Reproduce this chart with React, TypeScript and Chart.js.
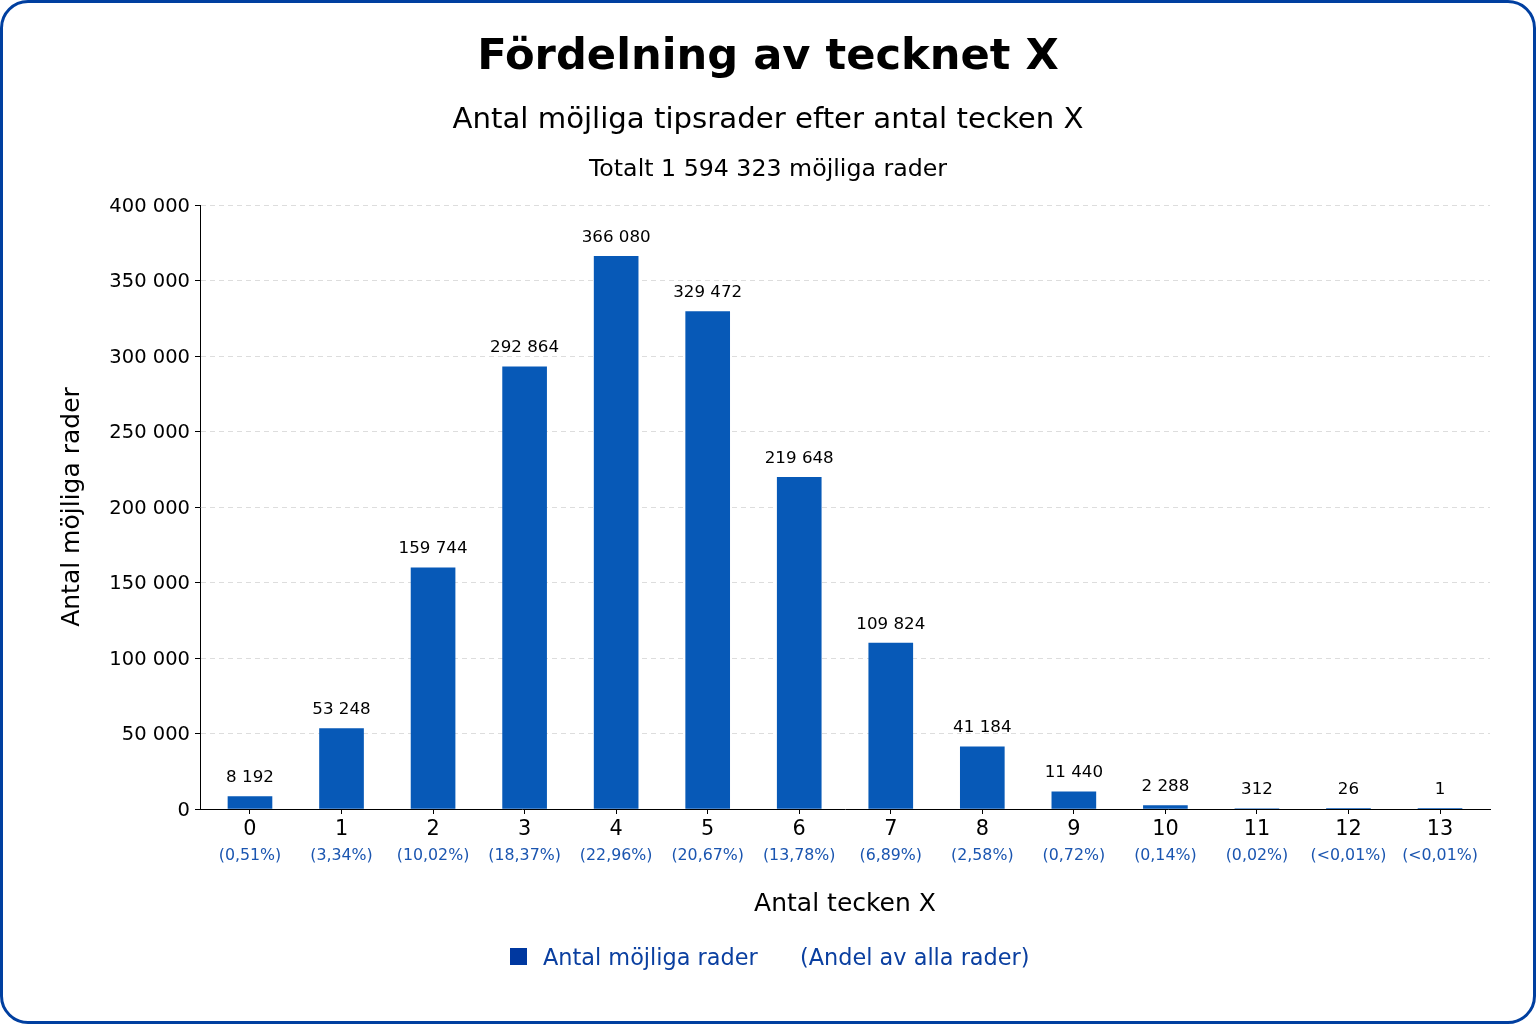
import React, { useEffect, useRef } from 'react';
import { Chart, registerables } from 'chart.js';

Chart.register(...registerables);

const FONT = "'DejaVu Sans', sans-serif";

const categories = ['0', '1', '2', '3', '4', '5', '6', '7', '8', '9', '10', '11', '12', '13'];
const counts = [8192, 53248, 159744, 292864, 366080, 329472, 219648, 109824, 41184, 11440, 2288, 312, 26, 1];
const shares = ['(0,51%)', '(3,34%)', '(10,02%)', '(18,37%)', '(22,96%)', '(20,67%)', '(13,78%)', '(6,89%)', '(2,58%)', '(0,72%)', '(0,14%)', '(0,02%)', '(<0,01%)', '(<0,01%)'];
const yMin = 0;
const yMax = 400000;
const yStep = 50000;

const titleText = 'Fördelning av tecknet X';
const subtitleText = 'Antal möjliga tipsrader efter antal tecken X';
const totalText = 'Totalt 1 594 323 möjliga rader';
const xTitle = 'Antal tecken X';
const yTitle = 'Antal möjliga rader';
const legendMain = 'Antal möjliga rader';
const legendNote = '(Andel av alla rader)';

const fmt = (n: number) => String(Math.round(n)).replace(/\B(?=(\d{3})+(?!\d))/g, ' ');

const barLabels = {
  id: 'barLabels',
  afterDatasetsDraw(chart: any) {
    const ctx = chart.ctx;
    const meta = chart.getDatasetMeta(0);
    ctx.save();
    ctx.font = `16.7px ${FONT}`;
    ctx.fillStyle = '#000000';
    ctx.textAlign = 'center';
    ctx.textBaseline = 'middle';
    meta.data.forEach((el: any, i: number) => {
      ctx.fillText(fmt(counts[i]), el.x, el.y - 19);
    });
    ctx.restore();
  },
  afterDraw(chart: any) {
    const ctx = chart.ctx;
    const xs = chart.scales.x;
    ctx.save();
    ctx.font = `15.8px ${FONT}`;
    ctx.fillStyle = '#1a55b0';
    ctx.textAlign = 'center';
    ctx.textBaseline = 'middle';
    shares.forEach((s, i) => {
      ctx.fillText(s, xs.getPixelForValue(i), 855.5);
    });
    ctx.restore();
  },
};

export default function App() {
  const ref = useRef<HTMLCanvasElement>(null);

  useEffect(() => {
    if (!ref.current) return;
    const chart = new Chart(ref.current, {
      type: 'bar',
      data: {
        datasets: [
          {
            label: legendMain,
            data: counts.map((v, i) => ({ x: i, y: v })),
            backgroundColor: '#0759b7',
            borderWidth: 0,
            barThickness: 44,
          } as any,
        ],
      },
      options: {
        responsive: false,
        animation: false,
        layout: { padding: { top: 205, left: 0, right: 46, bottom: 105 } },
        plugins: {
          legend: { display: false },
          tooltip: { enabled: false },
          title: { display: false },
        },
        scales: {
          x: {
            type: 'linear',
            min: -0.546,
            max: 13.546,
            offset: false,
            afterFit: (s: any) => {
              s.height = 110;
            },
            grid: {
              display: true,
              offset: false,
              drawOnChartArea: false,
              drawTicks: true,
              tickLength: 5,
              tickColor: '#000000',
              tickWidth: 1,
            },
            border: { display: true, color: '#000000', width: 1 },
            ticks: {
              stepSize: 1,
              includeBounds: false,
              autoSkip: false,
              maxRotation: 0,
              padding: 3,
              color: '#000000',
              font: { family: FONT, size: 20.8 },
              callback: (v: any) => categories[v] ?? '',
            },
            title: {
              display: true,
              text: xTitle,
              color: '#000000',
              font: { family: FONT, size: 25 },
              padding: { top: 0, bottom: 0 },
            },
          } as any,
          y: {
            type: 'linear',
            min: yMin,
            max: yMax,
            afterFit: (s: any) => {
              s.width = 200;
            },
            grid: {
              display: true,
              color: '#dddddd',
              lineWidth: 1,
              drawTicks: true,
              tickLength: 5,
              tickColor: '#000000',
              tickWidth: 1,
              tickBorderDash: [],
            },
            border: { display: true, color: '#000000', width: 1, dash: [5, 4] },
            ticks: {
              stepSize: yStep,
              padding: 5,
              labelOffset: 1.5,
              color: '#000000',
              font: { family: FONT, size: 19.5 },
              callback: (v: any) => fmt(Number(v)),
            },
            title: {
              display: true,
              text: yTitle,
              color: '#000000',
              font: { family: FONT, size: 25 },
              padding: { top: 57, bottom: 0 },
            },
          } as any,
        },
      },
      plugins: [barLabels],
    });
    return () => chart.destroy();
  }, []);

  const abs: React.CSSProperties = {
    position: 'absolute',
    whiteSpace: 'nowrap',
    lineHeight: 1,
    fontFamily: FONT,
    margin: 0,
  };

  return (
    <div style={{ position: 'absolute', left: 0, top: 0, width: 1536, height: 1024, background: '#ffffff', overflow: 'hidden' }}>
      <canvas ref={ref} width={1536} height={1024} style={{ position: 'absolute', left: 0, top: 0, width: 1536, height: 1024 }} />
      <div style={{ ...abs, left: 0, width: 1536, textAlign: 'center', top: 33, fontSize: 43.2, fontWeight: 'bold', color: '#000' }}>{titleText}</div>
      <div style={{ ...abs, left: 0, width: 1536, textAlign: 'center', top: 103.5, fontSize: 29.2, color: '#000' }}>{subtitleText}</div>
      <div style={{ ...abs, left: 0, width: 1536, textAlign: 'center', top: 157, fontSize: 23.7, color: '#000' }}>{totalText}</div>
      <div style={{ position: 'absolute', left: 510, top: 948, width: 17, height: 17, background: '#0038a0' }} />
      <div style={{ ...abs, left: 543, top: 946, fontSize: 22.4, color: '#0a3fa0' }}>{legendMain}</div>
      <div style={{ ...abs, left: 800, top: 946, fontSize: 22.4, color: '#0a3fa0' }}>{legendNote}</div>
      <div
        style={{
          position: 'absolute',
          left: 0,
          top: 0,
          width: 1536,
          height: 1024,
          boxSizing: 'border-box',
          border: '3px solid #003fa0',
          borderRadius: 28,
          pointerEvents: 'none',
        }}
      />
    </div>
  );
}
